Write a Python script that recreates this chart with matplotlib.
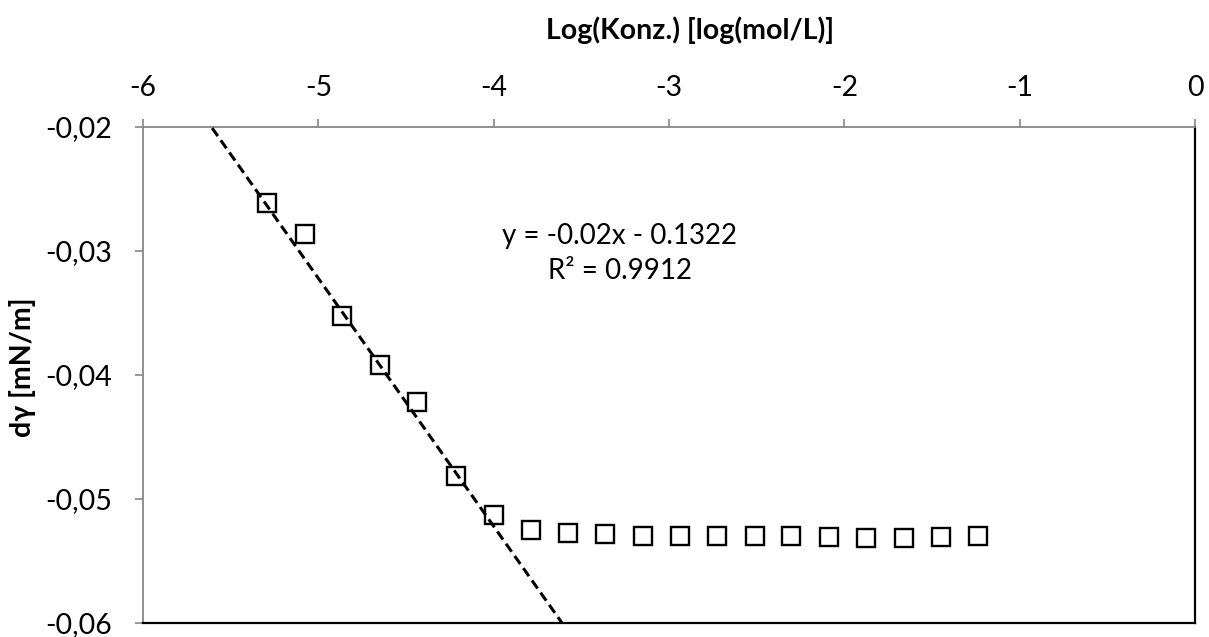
import matplotlib
matplotlib.use("Agg")
import matplotlib.pyplot as plt
import numpy as np
from matplotlib.ticker import FuncFormatter

# log concentration [log(mol/L)] and d gamma [mN/m]
log_conc = [-5.293, -5.078, -4.863, -4.646, -4.435, -4.213, -4.000,
            -3.789, -3.577, -3.363, -3.151, -2.940, -2.726, -2.512,
            -2.302, -2.088, -1.875, -1.660, -1.449, -1.236]
d_gamma = [-0.02613, -0.02861, -0.03524, -0.03922, -0.04215, -0.04815, -0.05132,
           -0.05250, -0.05273, -0.05284, -0.05297, -0.05297, -0.05297, -0.05302,
           -0.05302, -0.05305, -0.05317, -0.05317, -0.05310, -0.05297]

# linear trendline as printed on the chart
slope = -0.02
intercept = -0.1322
r_squared = 0.9912

x_ticks = [-6, -5, -4, -3, -2, -1, 0]
y_ticks = [-0.06, -0.05, -0.04, -0.03, -0.02]

plt.rcParams['font.family'] = ['Lato', 'DejaVu Sans']

fig = plt.figure(figsize=(12.09, 6.37), dpi=100)
ax = fig.add_axes([143 / 1209, 1 - 623 / 637, (1195 - 143) / 1209, (623 - 127) / 637])

ax.plot(log_conc, d_gamma, linestyle='none', marker='s', markersize=13.5,
        markerfacecolor='none', markeredgecolor='black', markeredgewidth=1.7, zorder=2)

# trendline drawn over the whole x range, clipped by the axes
xs = np.array([-6.0, 0.0])
ax.plot(xs, slope * xs + intercept, color='black', linewidth=2.2,
        linestyle=(0, (3.2, 1.7)), zorder=3)

ax.set_xlim(-6, 0)
ax.set_ylim(-0.06, -0.02)
ax.set_xticks(x_ticks)
ax.set_yticks(y_ticks)
ax.xaxis.tick_top()
ax.yaxis.set_major_formatter(FuncFormatter(lambda v, p: ('%.2f' % v).replace('.', ',')))
ax.xaxis.set_major_formatter(FuncFormatter(lambda v, p: '%d' % round(v)))

ax.tick_params(axis='x', which='both', direction='out', length=6, width=1.2,
               color='#888888', labelsize=20.5, pad=13)
ax.tick_params(axis='y', which='both', direction='out', length=6, width=1.2,
               color='#888888', labelsize=20.5, pad=16)

for side in ['left', 'top']:
    ax.spines[side].set_color('#888888')
    ax.spines[side].set_linewidth(1.3)
for side in ['right', 'bottom']:
    ax.spines[side].set_color('black')
    ax.spines[side].set_linewidth(1.6)

ax.text(0.4534, 0.745, 'y = -0.02x - 0.1322\nR² = %.4f' % r_squared, transform=ax.transAxes,
        ha='center', va='center', fontsize=20, linespacing=1.4)

fig.text(690 / 1209, 1 - 30 / 637, 'Log(Konz.) [log(mol/L)]', ha='center', va='center',
         fontsize=20.5, fontweight='bold')
fig.text(22 / 1209, 1 - 367 / 637, 'dγ [mN/m]', ha='center', va='center',
         rotation=90, fontsize=20.5, fontweight='bold')

fig.savefig('out.png', dpi=100, facecolor='white')
